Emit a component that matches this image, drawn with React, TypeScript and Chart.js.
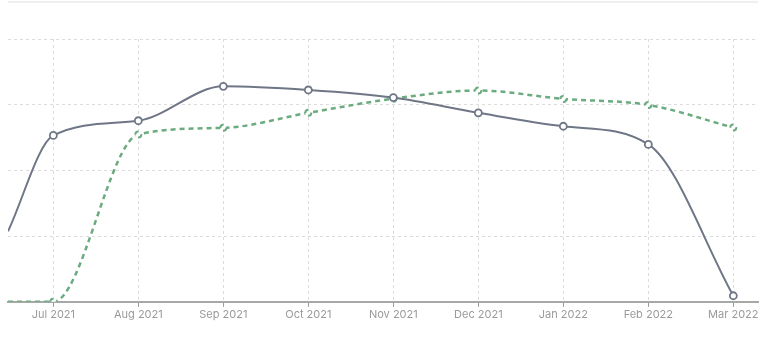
import React, { useEffect, useRef } from "react";
import { Chart, registerables } from "chart.js";

Chart.register(...registerables);

// Months shown on the x axis (index 0 = Jun 2021)
const categories = [
  "Jun 2021", "Jul 2021", "Aug 2021", "Sep 2021", "Oct 2021",
  "Nov 2021", "Dec 2021", "Jan 2022", "Feb 2022", "Mar 2022",
];
// Dates of the data points
const dates = [
  "2021-06-15", "2021-07-01", "2021-08-01", "2021-09-01", "2021-10-01",
  "2021-11-01", "2021-12-01", "2022-01-01", "2022-02-01", "2022-03-01",
];
const graySeries = [26.8, 63.3, 68.9, 82.0, 80.6, 77.7, 71.9, 66.8, 59.9, 2.3];
const greenSeries = [0, 0, 63.7, 66.2, 71.9, 77.3, 80.4, 77.2, 74.9, 66.3];
const yTicks = [0, 25, 50, 75, 100];
const xRangeStart = "2021-06-15";
const xRangeEnd = "2022-03-10";

// convert an ISO date to fractional month index since Jun 2021
function monthPos(iso: string): number {
  const [y, m, d] = iso.split("-").map(Number);
  const dim = new Date(y, m, 0).getDate();
  return (y - 2021) * 12 + (m - 6) + (d - 1) / dim;
}

export default function App() {
  const ref = useRef<HTMLCanvasElement | null>(null);

  useEffect(() => {
    if (!ref.current) return;
    const dashPoints = {
      id: "dashPoints",
      beforeDatasetDraw(chart: any, args: any) {
        if (args.index === 1) {
          chart.ctx.save();
          chart.ctx.setLineDash([5, 4]);
        }
      },
      afterDatasetDraw(chart: any, args: any) {
        if (args.index === 1) chart.ctx.restore();
      },
    };
    const chart = new Chart(ref.current, {
      type: "line",
      plugins: [dashPoints],
      data: {
        datasets: [
          {
            label: "A",
            data: graySeries.map((v, i) => ({ x: monthPos(dates[i]), y: v })),
            borderColor: "#6f7686",
            borderWidth: 2,
            cubicInterpolationMode: "monotone",
            pointRadius: (c: any) => (c.dataIndex === 0 ? 0 : 3.5),
            pointBorderWidth: 1.8,
            pointBackgroundColor: "#ffffff",
            pointBorderColor: "#6f7686",
            fill: false,
          },
          {
            label: "B",
            data: greenSeries.map((v, i) => ({ x: monthPos(dates[i]), y: v })),
            borderColor: "#6aab7f",
            borderWidth: 2.5,
            borderDash: [5, 4],
            cubicInterpolationMode: "monotone",
            pointRadius: (c: any) => (c.dataIndex === 0 ? 0 : 3),
            pointBorderWidth: 2,
            pointBackgroundColor: "#ffffff",
            pointBorderColor: "#6aab7f",
            fill: false,
          },
        ],
      },
      options: {
        animation: false,
        responsive: false,
        maintainAspectRatio: false,
        layout: { padding: { left: 8, right: 10, top: 39, bottom: 29 } },
        plugins: { legend: { display: false }, tooltip: { enabled: false } },
        scales: {
          x: {
            type: "linear",
            min: monthPos(xRangeStart),
            max: monthPos(xRangeEnd),
            afterBuildTicks: (scale: any) => {
              scale.ticks = categories
                .map((_, i) => ({ value: i }))
                .filter((t) => t.value >= scale.min && t.value <= scale.max);
            },
            ticks: {
              callback: (v: any) => categories[Math.round(Number(v))] ?? "",
              color: "#9a9a9a",
              font: { family: "Inter", size: 11 },
              padding: 1,
              maxRotation: 0,
              autoSkip: false,
            },
            grid: {
              color: "#dcdcdc",
              tickColor: "#9a9a9a",
              tickLength: 5,
              tickBorderDash: [],
              drawOnChartArea: true,
            } as any,
            border: { display: true, color: "#a8a8a8", width: 2, dash: [3, 3] },
          },
          y: {
            min: 0,
            max: 100,
            afterBuildTicks: (scale: any) => {
              scale.ticks = yTicks.map((v) => ({ value: v }));
            },
            ticks: { display: false },
            grid: { color: "#dcdcdc", drawTicks: false },
            border: { display: false, dash: [3, 3] },
          },
        },
      },
    });
    return () => chart.destroy();
  }, []);

  return (
    <div style={{ position: "absolute", left: 0, top: 0, width: 768, height: 351, background: "#fff" }}>
      <div style={{ position: "absolute", left: 8, top: 1, width: 750, height: 2, background: "#efefef" }} />
      <canvas ref={ref} width={768} height={351} style={{ position: "absolute", left: 0, top: 0, width: 768, height: 351 }} />
    </div>
  );
}
